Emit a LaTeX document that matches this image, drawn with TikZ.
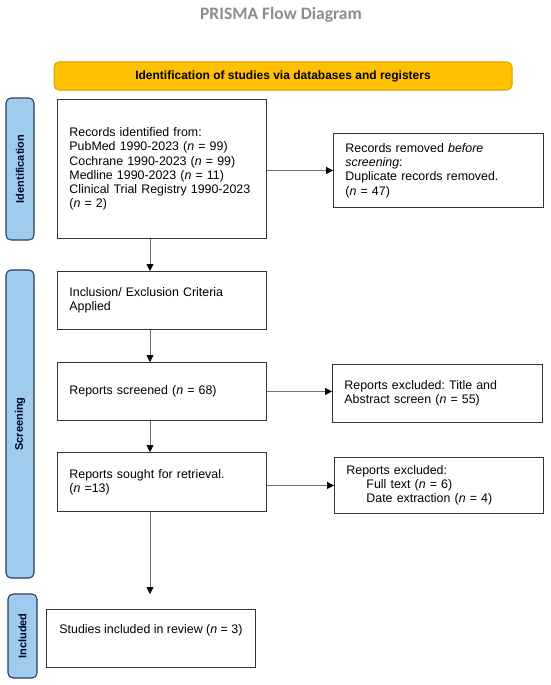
\documentclass[tikz,border=0pt]{standalone}
\usepackage{fontspec}
\setmainfont{Liberation Sans}
\newfontfamily\titlefont{Carlito}
\usetikzlibrary{arrows.meta}
\frenchspacing
\definecolor{bannerfill}{HTML}{FFC000}
\definecolor{bannerline}{HTML}{D9A000}
\definecolor{sidefill}{HTML}{9FCBEE}
\definecolor{sideline}{HTML}{2C3E5C}
\definecolor{titlegray}{HTML}{8C8C8C}
\definecolor{arrowgray}{HTML}{707070}
\definecolor{boxline}{HTML}{333333}
\tikzset{
  flowbox/.style={draw=boxline, line width=0.9pt, anchor=north west, align=left,
    inner xsep=12pt, inner ysep=0pt, font=\fontsize{12.4}{14.3}\selectfont},
  sidelabel/.style={draw=sideline, fill=sidefill, line width=1.1pt, rounded corners=5pt,
    rotate=90, inner sep=0pt, text=black!85!blue, font=\fontsize{11}{13}\selectfont\bfseries},
  flowarrow/.style={draw=arrowgray, line width=0.8pt, -{Triangle[length=7pt,width=7pt,fill=black,color=black]}},
}
\begin{document}
\begin{tikzpicture}[x=1pt,y=-1pt]
\useasboundingbox (0,0) rectangle (550,685);
% title
\node (title) at (281,15) {\titlefont\bfseries\fontsize{17.5}{19}\selectfont\color{titlegray}PRISMA Flow Diagram};
% banner
\node (banner) [draw=bannerline, fill=bannerfill, line width=1pt, rounded corners=5pt,
  minimum width=458pt, minimum height=28pt, inner sep=0pt,
  font=\fontsize{12}{14}\selectfont\bfseries] at (283,76) {Identification of studies via databases and registers};
% side labels
\node (sideid) [sidelabel, minimum width=142pt, minimum height=28pt] at (20,169) {Identification};
\node (sidescr) [sidelabel, minimum width=308pt, minimum height=28pt] at (20,424) {Screening};
\node (sideinc) [sidelabel, minimum width=84pt, minimum height=29pt] at (22.5,636) {Included};
% boxes
\node (rec) [flowbox, minimum width=209pt, minimum height=139pt, text width=185pt] at (57,99)
  {Records identified from:\\
   PubMed 1990-2023 (\textit{n} = 99)\\
   Cochrane 1990-2023 (\textit{n} = 99)\\
   Medline 1990-2023 (\textit{n} = 11)\\
   Clinical Trial Registry 1990-2023\\
   (\textit{n} = 2)};
\node (removed) [flowbox, minimum width=210pt, minimum height=74pt, text width=186pt] at (333,133)
  {Records removed \textit{before}\\
   \textit{screening}:\\
   Duplicate records removed.\\
   (\textit{n} = 47)};
\node (incl) [flowbox, minimum width=209pt, minimum height=58pt, text width=185pt] at (57,271)
  {Inclusion/ Exclusion Criteria\\ Applied};
\node (screened) [flowbox, minimum width=209pt, minimum height=58pt, text width=185pt] at (57,362)
  {Reports screened (\textit{n} = 68)};
\node (excl1) [flowbox, minimum width=210pt, minimum height=58pt, text width=186pt] at (332,364)
  {Reports excluded: Title and\\ Abstract screen (\textit{n} = 55)};
\node (sought) [flowbox, minimum width=209pt, minimum height=59pt, text width=185pt] at (57,452)
  {Reports sought for retrieval.\\ (\textit{n} =13)};
\node (excl2) [flowbox, minimum width=209pt, minimum height=56pt, text width=185pt] at (334,457)
  {Reports excluded:\\
   \hspace*{20pt}Full text (\textit{n} = 6)\\
   \hspace*{20pt}Date extraction (\textit{n} = 4)};
\node (included) [flowbox, inner xsep=4pt, minimum width=209pt, minimum height=58pt] at (46,609)
  {Studies included in review (\textit{n} = 3)\\ \strut};
% connectors
\coordinate (incend) at (150,594);
\draw[flowarrow] (rec.south -| incend) -- (incl.north -| incend);
\draw[flowarrow] (incl.south -| incend) -- (screened.north -| incend);
\draw[flowarrow] (screened.south -| incend) -- (sought.north -| incend);
\draw[flowarrow] (sought.south -| incend) -- (incend);
\draw[flowarrow] (rec.east |- removed.west) -- (removed.west);
\draw[flowarrow] (screened.east) -- (screened.east -| excl1.west);
\draw[flowarrow] (sought.east |- excl2.west) -- (excl2.west);
\end{tikzpicture}
\end{document}
